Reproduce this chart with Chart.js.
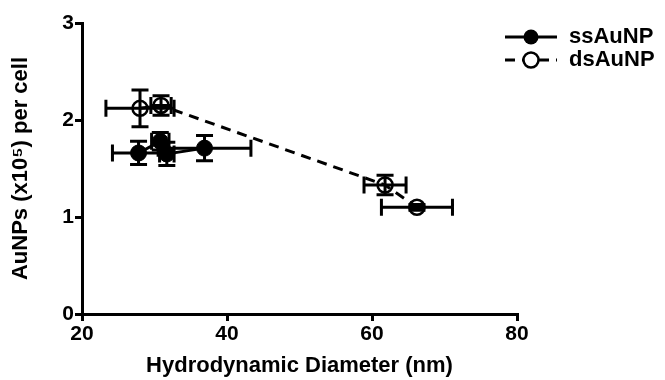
<!DOCTYPE html>
<html>
<head>
<meta charset="utf-8">
<script src="https://cdn.jsdelivr.net/npm/chart.js@4.4.1/dist/chart.umd.min.js"></script>
<style>
  html, body { margin: 0; padding: 0; background: #fff; }
  #wrap { width: 665px; height: 380px; position: relative; }
</style>
</head>
<body>
<div id="wrap"><canvas id="chart" width="665" height="380"></canvas></div>
<script>
// Axis ticks
const xTicks = [20, 40, 60, 80];
const yTicks = [0, 1, 2, 3];

// ssAuNP (filled circles, solid line)
const ssX = [27.8, 30.8, 31.7, 36.9];
const ssY = [1.66, 1.78, 1.65, 1.71];
const ssXErr = [3.6, 1.2, 1.0, 6.4];
const ssYErr = [0.12, 0.09, 0.12, 0.13];

// dsAuNP (open circles, dashed line)
const dsX = [28.0, 30.9, 61.8, 66.2];
const dsY = [2.12, 2.15, 1.33, 1.10];
const dsXErr = [4.7, 1.4, 2.9, 4.9];
const dsYErr = [0.19, 0.10, 0.10, 0.03];

const seriesNames = ['ssAuNP', 'dsAuNP'];

const FONT = "'Liberation Sans', Arial, sans-serif";

function toPoints(xs, ys, xe, ye) {
    return xs.map((x, i) => ({ x: x, y: ys[i], xErr: xe[i], yErr: ye[i] }));
}

// Draws x/y error bars with caps under the markers
const errorBars = {
    id: 'errorBars',
    beforeDatasetsDraw(chart) {
        const { ctx, scales: { x, y } } = chart;
        const cap = 8.5;
        ctx.save();
        ctx.strokeStyle = '#000';
        ctx.lineWidth = 3;
        chart.data.datasets.forEach(ds => {
            ds.data.forEach(p => {
                const px = x.getPixelForValue(p.x);
                const py = y.getPixelForValue(p.y);
                const x0 = x.getPixelForValue(p.x - p.xErr);
                const x1 = x.getPixelForValue(p.x + p.xErr);
                const y0 = y.getPixelForValue(p.y - p.yErr);
                const y1 = y.getPixelForValue(p.y + p.yErr);
                ctx.beginPath();
                ctx.moveTo(x0, py); ctx.lineTo(x1, py);
                ctx.moveTo(x0, py - cap); ctx.lineTo(x0, py + cap);
                ctx.moveTo(x1, py - cap); ctx.lineTo(x1, py + cap);
                ctx.moveTo(px, y0); ctx.lineTo(px, y1);
                ctx.moveTo(px - cap, y0); ctx.lineTo(px + cap, y0);
                ctx.moveTo(px - cap, y1); ctx.lineTo(px + cap, y1);
                ctx.stroke();
            });
        });
        ctx.restore();
    }
};

// Legend with line + marker samples, top right
const lineLegend = {
    id: 'lineLegend',
    afterDraw(chart) {
        const { ctx } = chart;
        const rows = [37, 60];
        ctx.save();
        chart.data.datasets.forEach((ds, i) => {
            const yy = rows[i];
            ctx.strokeStyle = '#000';
            ctx.lineWidth = 3;
            ctx.setLineDash(ds.borderDash || []);
            ctx.beginPath();
            ctx.moveTo(505, yy); ctx.lineTo(557, yy);
            ctx.stroke();
            ctx.setLineDash([]);
            ctx.beginPath();
            ctx.arc(531, yy, 7.5, 0, Math.PI * 2);
            if (ds.pointBackgroundColor === '#000') {
                ctx.fillStyle = '#000';
                ctx.fill();
            } else {
                ctx.fillStyle = '#fff';
                ctx.fill();
                ctx.lineWidth = 2.5;
                ctx.stroke();
            }
            ctx.fillStyle = '#000';
            ctx.font = 'bold 22px ' + FONT;
            ctx.textBaseline = 'middle';
            ctx.fillText(ds.label, 569, yy);
        });
        ctx.restore();
    }
};

new Chart(document.getElementById('chart'), {
    type: 'scatter',
    data: {
        datasets: [
            {
                label: seriesNames[0],
                data: toPoints(ssX, ssY, ssXErr, ssYErr),
                showLine: true,
                borderColor: '#000',
                borderWidth: 3,
                pointRadius: 8,
                pointBackgroundColor: '#000',
                pointBorderColor: '#000',
                pointBorderWidth: 1
            },
            {
                label: seriesNames[1],
                data: toPoints(dsX, dsY, dsXErr, dsYErr),
                showLine: true,
                borderColor: '#000',
                borderWidth: 3,
                borderDash: [10, 7],
                pointRadius: 7.5,
                pointBackgroundColor: 'rgba(0,0,0,0)',
                pointBorderColor: '#000',
                pointBorderWidth: 2.5
            }
        ]
    },
    options: {
        responsive: false,
        animation: false,
        layout: { padding: { top: 23, right: 148, left: 0, bottom: 0 } },
        plugins: {
            legend: { display: false },
            tooltip: { enabled: false }
        },
        scales: {
            x: {
                type: 'linear',
                min: 20,
                max: 80,
                afterBuildTicks: s => { s.ticks = xTicks.map(v => ({ value: v })); },
                afterFit: s => { s.height = 66; },
                ticks: { color: '#000', font: { family: FONT, size: 21, weight: 'bold' }, padding: 1, maxRotation: 0, minRotation: 0 },
                grid: { drawOnChartArea: false, drawTicks: true, tickLength: 7, color: '#000', lineWidth: 3 },
                border: { color: '#000', width: 3 },
                title: {
                    display: true,
                    text: 'Hydrodynamic Diameter (nm)',
                    color: '#000',
                    font: { family: FONT, size: 22, weight: 'bold' },
                    padding: { top: 0, bottom: 1 }
                }
            },
            y: {
                min: 0,
                max: 3,
                afterBuildTicks: s => { s.ticks = yTicks.map(v => ({ value: v })); },
                afterFit: s => { s.width = 82; },
                ticks: { color: '#000', font: { family: FONT, size: 21, weight: 'bold' }, padding: 1 },
                grid: { drawOnChartArea: false, drawTicks: true, tickLength: 7, color: '#000', lineWidth: 3 },
                border: { color: '#000', width: 3 },
                title: {
                    display: true,
                    text: 'AuNPs (x10\u2075) per cell',
                    color: '#000',
                    font: { family: FONT, size: 22, weight: 'bold' },
                    padding: { top: 8, bottom: 0 }
                }
            }
        }
    },
    plugins: [errorBars, lineLegend]
});
</script>
</body>
</html>
